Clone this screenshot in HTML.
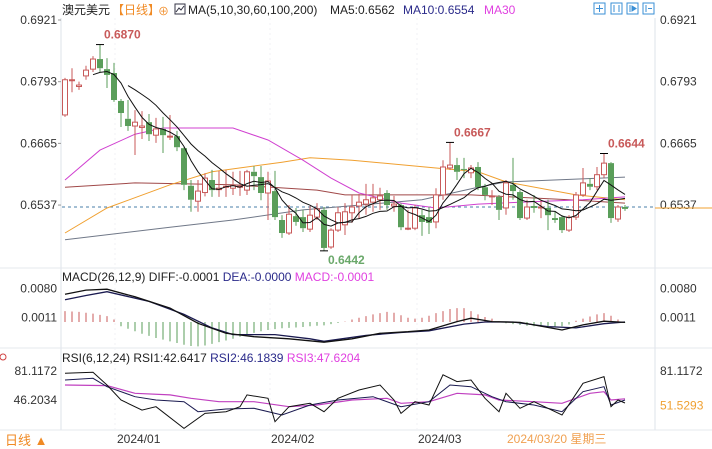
<!DOCTYPE html>
<html><head><meta charset="utf-8">
<style>
html,body{margin:0;padding:0;background:#fff;width:712px;height:449px;overflow:hidden;font-family:"Liberation Sans","Noto Sans CJK SC",sans-serif;}
svg{display:block}
</style></head>
<body>
<svg id="chart" width="712" height="449" viewBox="0 0 712 449" xmlns="http://www.w3.org/2000/svg" font-family="Liberation Sans, Noto Sans CJK SC, sans-serif" font-size="12">
<g>
<line x1="61" y1="18" x2="61" y2="430" stroke="#dde3ea"/>
<line x1="655" y1="18" x2="655" y2="430" stroke="#dde3ea"/>
<line x1="0" y1="268" x2="712" y2="268" stroke="#e4e8ee"/>
<line x1="0" y1="348" x2="712" y2="348" stroke="#e4e8ee"/>
<line x1="0" y1="430" x2="712" y2="430" stroke="#e4e8ee"/>
<line x1="115" y1="18" x2="115" y2="430" stroke="#f0f2f5" stroke-dasharray="2,3"/>
<line x1="270" y1="18" x2="270" y2="430" stroke="#f0f2f5" stroke-dasharray="2,3"/>
<line x1="417" y1="18" x2="417" y2="430" stroke="#f0f2f5" stroke-dasharray="2,3"/>
</g>
<g>
<text x="62" y="14" fill="#222">澳元美元</text>
<text x="112" y="14" fill="#f08a24">【日线】</text>
<text x="158" y="15" fill="#f08a24" font-size="11">⊕</text>
<rect x="175" y="4" width="10" height="10" fill="none" stroke="#334"/>
<polyline points="176,12 179,8 181,10 184,6" fill="none" stroke="#334"/>
<text x="188" y="14" fill="#222">MA(5,10,30,60,100,200)</text>
<text x="330" y="14" fill="#222">MA5:0.6562</text>
<text x="403" y="14" fill="#2a2a8a">MA10:0.6554</text>
<text x="484" y="14" fill="#e040e0">MA30</text>
<g stroke="#3a8fd6" fill="none">
<rect x="594" y="3" width="11" height="11"/><rect x="611" y="3" width="11" height="11"/><rect x="627" y="3" width="11" height="11"/><rect x="643" y="3" width="11" height="11"/>
<line x1="599.5" y1="5" x2="599.5" y2="12"/><line x1="596" y1="8.5" x2="603" y2="8.5"/>
<line x1="614" y1="5" x2="614" y2="12"/><line x1="619" y1="5" x2="619" y2="12"/>
<line x1="630" y1="5" x2="630" y2="12"/><polygon points="632,6 636,8.5 632,11" fill="#3a8fd6"/>
<line x1="646" y1="5" x2="646" y2="12"/><line x1="648" y1="8.5" x2="652" y2="8.5"/>
</g>
</g>
<g id="axes" fill="#333" font-size="12"></g>
<g id="price"></g>
<g id="macd"></g>
<g id="rsi"></g>
<text x="62" y="281" fill="#222" font-size="12">MACD(26,12,9) DIFF:-0.0001 <tspan fill="#2a2a8a">DEA:-0.0000</tspan> <tspan fill="#e040e0">MACD:-0.0001</tspan></text>
<text x="62" y="362" fill="#222" font-size="12">RSI(6,12,24) RSI1:42.6417 <tspan fill="#2a2a8a">RSI2:46.1839</tspan> <tspan fill="#e040e0">RSI3:47.6204</tspan></text>
<circle cx="3" cy="357" r="3" fill="none" stroke="#d04040"/>
<g font-size="12">
<text x="5" y="445" fill="#f08a24" font-size="13">日线 ▲</text>
<text x="117" y="443" fill="#333">2024/01</text>
<text x="271" y="443" fill="#333">2024/02</text>
<text x="418" y="443" fill="#333">2024/03</text>
<text x="507" y="443" fill="#f0a050">2024/03/20 星期三</text>
</g>
</svg>
<script>
const opens=[0.6724,0.6797,0.6783,0.6805,0.6819,0.6840,0.6819,0.6811,0.6753,0.6716,0.6701,0.6698,0.6709,0.6682,0.6695,0.6678,0.6680,0.6655,0.6577,0.6545,0.6563,0.6589,0.6569,0.6574,0.6572,0.6574,0.6568,0.6606,0.6595,0.6562,0.6566,0.6506,0.6479,0.6514,0.6512,0.6487,0.6512,0.6527,0.6450,0.6485,0.6496,0.6521,0.6535,0.6539,0.6543,0.6548,0.6562,0.6535,0.6537,0.6487,0.6489,0.6516,0.6512,0.6502,0.6558,0.6614,0.6620,0.6612,0.6604,0.6616,0.6574,0.6554,0.6554,0.6531,0.6579,0.6564,0.6510,0.6535,0.6531,0.6531,0.6510,0.6512,0.6485,0.6512,0.6558,0.6581,0.6575,0.6600,0.6624,0.6508,0.6533];
const closes=[0.6797,0.6797,0.6786,0.6817,0.6840,0.6821,0.6807,0.6755,0.6728,0.6701,0.6709,0.6701,0.6684,0.6695,0.6682,0.6680,0.6657,0.6579,0.6548,0.6566,0.6593,0.6568,0.6572,0.6576,0.6578,0.6576,0.6606,0.6597,0.6562,0.6587,0.6512,0.6479,0.6518,0.6502,0.6489,0.6516,0.6529,0.6448,0.6485,0.6521,0.6523,0.6533,0.6543,0.6548,0.6552,0.6556,0.6537,0.6539,0.6491,0.6489,0.6531,0.6502,0.6500,0.6558,0.6616,0.6620,0.6606,0.6610,0.6614,0.6574,0.6558,0.6556,0.6527,0.6583,0.6566,0.6510,0.6533,0.6531,0.6533,0.6516,0.6506,0.6485,0.6512,0.6558,0.6583,0.6575,0.6600,0.6624,0.6510,0.6533,0.6529];
const highs=[0.6801,0.6821,0.6793,0.6826,0.6846,0.6870,0.6842,0.6832,0.6757,0.6755,0.6734,0.6732,0.6726,0.6718,0.6720,0.6724,0.6691,0.6657,0.6589,0.6589,0.6603,0.6610,0.6608,0.6610,0.6606,0.6608,0.6610,0.6618,0.6618,0.6606,0.6608,0.6516,0.6537,0.6531,0.6527,0.6535,0.6541,0.6533,0.6489,0.6533,0.6541,0.6558,0.6560,0.6581,0.6581,0.6573,0.6568,0.6556,0.6541,0.6527,0.6537,0.6527,0.6533,0.6572,0.6630,0.6667,0.6635,0.6635,0.6620,0.6626,0.6581,0.6568,0.6558,0.6589,0.6635,0.6568,0.6548,0.6558,0.6548,0.6548,0.6523,0.6516,0.6516,0.6564,0.6614,0.6593,0.6616,0.6644,0.6626,0.6537,0.6537];
const lows=[0.6720,0.6771,0.6776,0.6797,0.6813,0.6813,0.6780,0.6751,0.6699,0.6691,0.6641,0.6674,0.6670,0.6666,0.6645,0.6672,0.6649,0.6568,0.6523,0.6523,0.6555,0.6554,0.6554,0.6554,0.6558,0.6556,0.6558,0.6568,0.6547,0.6506,0.6506,0.6469,0.6475,0.6494,0.6481,0.6481,0.6506,0.6442,0.6446,0.6481,0.6475,0.6500,0.6508,0.6517,0.6523,0.6527,0.6527,0.6523,0.6485,0.6485,0.6485,0.6473,0.6477,0.6489,0.6548,0.6610,0.6589,0.6593,0.6593,0.6568,0.6547,0.6537,0.6506,0.6517,0.6548,0.6506,0.6506,0.6521,0.6510,0.6485,0.6500,0.6479,0.6481,0.6506,0.6554,0.6568,0.6568,0.6593,0.6500,0.6502,0.6525];
const ma30Idx=[0,5,10,14,24,29,34,38,42,48,53,59,65,74,80];
const ma30Val=[0.6589,0.6651,0.6684,0.6697,0.6697,0.6672,0.6630,0.6593,0.6562,0.6541,0.6531,0.6539,0.6543,0.6548,0.6554];
const ma60Idx=[0,6,15,21,31,35,41,53,59,63,73,80];
const ma60Val=[0.6479,0.6531,0.6579,0.6606,0.6626,0.6635,0.6630,0.6614,0.6606,0.6585,0.6558,0.6548];
const ma100Idx=[0,10,24,36,40,58,72,80];
const ma100Val=[0.6574,0.6583,0.6579,0.6568,0.6558,0.6558,0.6548,0.6541];
const ma200Idx=[0,15,24,34,42,51,59,63,80];
const ma200Val=[0.6465,0.6491,0.6506,0.6527,0.6537,0.6548,0.6574,0.6585,0.6595];
const priceTicks=["0.6921","0.6793","0.6665","0.6537"];
const macdHist=[26,25,24,22,20,17,14,6,-10,-16,-22,-28,-33,-38,-42,-46,-50,-54,-57,-58,-56,-52,-48,-44,-40,-35,-30,-26,-22,-19,-17,-15,-14,-13,-12,-10,-9,-8,-5,-2,1,6,10,14,18,21,24,22,16,10,8,10,15,21,26,31,33,33,26,18,12,8,2,-3,-5,-7,-9,-10,-11,-12,-11,-10,-6,3,8,13,18,21,15,6,-1];
const diffIdx=[0,3,6,10,15,19,23,27,32,37,41,45,49,52,56,58,61,65,71,74,77,80];
const diffVal=[0.0066,0.0076,0.0078,0.0060,0.0033,-0.0003,-0.0027,-0.0035,-0.0040,-0.0048,-0.0040,-0.0027,-0.0023,-0.0019,0.0001,0.0009,0.0001,-0.0001,-0.0019,-0.0007,0.0002,-0.0001];
const deaIdx=[0,3,6,12,17,21,24,30,35,37,43,48,52,57,60,64,69,73,77,80];
const deaVal=[0.0053,0.0063,0.0072,0.0049,0.0018,-0.0014,-0.0030,-0.0030,-0.0040,-0.0046,-0.0032,-0.0025,-0.0021,-0.0005,0.0000,0.0000,-0.0011,-0.0014,-0.0004,0.0000];
const macdTicks=["0.0080","0.0011"];
const rsi1Idx=[0,4,6,8,11,13,17,20,23,25,26,29,30,32,35,37,39,42,45,47,48,50,52,54,56,58,60,62,63,65,67,71,74,77,78,79,80];
const rsi1Val=[78.3,79.5,64.3,46.2,34.1,38.1,12.0,30.1,32.1,38.1,52.3,48.3,20.1,38.1,42.2,32.1,48.3,58.3,64.3,46.2,30.1,44.2,40.2,76.5,68.3,70.3,48.3,32.1,54.3,36.2,44.2,28.1,66.3,74.4,38.1,46.2,42.6];
const rsi2Idx=[0,4,6,10,13,17,19,23,27,31,35,39,44,48,52,55,58,61,63,67,71,74,77,78,80];
const rsi2Val=[70.3,72.3,62.2,50.2,46.2,44.2,32.1,35.4,36.2,28.1,40.2,46.2,50.2,38.1,44.2,64.3,62.2,50.2,44.2,40.2,32.1,56.2,62.2,40.2,46.2];
const rsi3Idx=[0,6,10,15,18,22,27,32,36,41,46,48,52,56,60,62,67,71,75,77,78,80];
const rsi3Val=[64.3,63.5,54.3,52.3,48.3,44.2,44.2,38.1,40.2,46.2,48.3,42.2,44.2,54.3,52.3,46.2,44.2,42.2,54.3,56.2,46.2,47.6];
const rsiTicks=["81.1172","46.2034"];

const NS="http://www.w3.org/2000/svg";
function xAt(i){return 65+i*7;}
function yPrice(p){return 20+(0.6921-p)/0.0002075;}
function yMacd(v){return 322-v/0.000238;}
function yRsi(v){return 371+(81.1172-v)/1.204;}
function mk(tag,attrs,parent){const e=document.createElementNS(NS,tag);for(const k in attrs)e.setAttribute(k,attrs[k]);parent.appendChild(e);return e;}
function poly(idx,vals,yf,color,parent,name,w){
  const pts=idx.map((ix,k)=>xAt(ix).toFixed(1)+","+yf(vals[k]).toFixed(1)).join(" ");
  const e=mk("polyline",{points:pts,fill:"none",stroke:color,"stroke-width":w||1},parent);
  
  
  return e;
}
const price=document.getElementById("price");
const axes=document.getElementById("axes");
// price ticks
priceTicks.forEach(t=>{
  const y=yPrice(parseFloat(t));
  const l=mk("text",{x:57,y:y+4,"text-anchor":"end",fill:"#333"},axes);l.textContent=t;
  
  
  const r=mk("text",{x:660,y:y+4,fill:"#333"},axes);r.textContent=t;
  
  
  mk("line",{x1:58,x2:61,y1:y,y2:y,stroke:"#999"},axes);
});
// current price line
const cur=mk("line",{x1:62,x2:655,y1:yPrice(0.6533),y2:yPrice(0.6533),stroke:"#4a7fa8","stroke-dasharray":"3,3"},price);


const cur2=mk("line",{x1:655,x2:712,y1:yPrice(0.6531),y2:yPrice(0.6531),stroke:"#f0a030"},price);


// long MAs
poly(ma200Idx,ma200Val,yPrice,"#707888",price,"ma200-line");
poly(ma100Idx,ma100Val,yPrice,"#a04848",price,"ma100-line");
poly(ma60Idx,ma60Val,yPrice,"#f0a030",price,"ma60-line");
poly(ma30Idx,ma30Val,yPrice,"#d040d0",price,"ma30-line");
// candles
closes.forEach((c,i)=>{
  const o=opens[i],h=highs[i],l=lows[i],x=xAt(i);
  const up=c>=o, col=up?"#c85a5a":"#5a9e5a";
  const g=mk("g",{},price);
  
  
  const top=Math.min(yPrice(o),yPrice(c)), bot=Math.max(yPrice(o),yPrice(c));
  mk("line",{x1:x,x2:x,y1:yPrice(h),y2:top,stroke:col},g);
  mk("line",{x1:x,x2:x,y1:bot,y2:yPrice(l),stroke:col},g);
  if(up) mk("rect",{x:x-2.5,y:top,width:5,height:Math.max(bot-top,1),fill:"#fff",stroke:col},g);
  else mk("rect",{x:x-3,y:top,width:6,height:Math.max(bot-top,1),fill:col},g);
});
// MA5/MA10
function sma(n){const idx=[],vals=[];for(let i=n-1;i<closes.length;i++){let s=0;for(let k=0;k<n;k++)s+=closes[i-k];idx.push(i);vals.push(s/n);}return [idx,vals];}
const m5=sma(5),m10=sma(10);
poly(m10[0],m10[1],yPrice,"#111",price,"ma10-line");
poly(m5[0],m5[1],yPrice,"#111",price,"ma5-line");
// extremes
function mark(i,p,txt,color,above,name){
  const x=xAt(i),y=yPrice(p);
  mk("line",{x1:x-4,x2:x+4,y1:y,y2:y,stroke:"#000"},price);
  const t=mk("text",{x:x+4,y:above?y-6:y+13,fill:color,"font-size":"12","font-weight":"bold"},price);t.textContent=txt;
  
  
}
let hiI=0,loI=0;highs.forEach((h,i)=>{if(h>highs[hiI])hiI=i;});lows.forEach((l,i)=>{if(l<lows[loI])loI=i;});
mark(hiI,highs[hiI],highs[hiI].toFixed(4),"#c85a5a",true,"max-high-label");
mark(55,highs[55],highs[55].toFixed(4),"#c85a5a",true,"local-high-label");
mark(77,highs[77],highs[77].toFixed(4),"#c85a5a",true,"recent-high-label");
mark(loI,lows[loI],lows[loI].toFixed(4),"#6aa86a",false,"min-low-label");
// MACD
const macd=document.getElementById("macd");
macdTicks.forEach(t=>{
  const y=yMacd(parseFloat(t));
  const l=mk("text",{x:57,y:y+4,"text-anchor":"end",fill:"#333"},axes);l.textContent=t;
  
  
  const r=mk("text",{x:660,y:y+4,fill:"#333"},axes);r.textContent=t;
  
  
});
macdHist.forEach((v,i)=>{
  const b=mk("line",{x1:xAt(i),x2:xAt(i),y1:yMacd(0),y2:yMacd(v/10000),stroke:v>=0?"#c85a5a":"#5a9e5a"},macd);
  
  
});
poly(deaIdx,deaVal,yMacd,"#1a1a50",macd,"dea-line",1.3);
poly(diffIdx,diffVal,yMacd,"#111",macd,"diff-line",1.3);
// RSI
const rsi=document.getElementById("rsi");
rsiTicks.forEach(t=>{
  const y=yRsi(parseFloat(t));
  const l=mk("text",{x:57,y:y+4,"text-anchor":"end",fill:"#333"},axes);l.textContent=t;
  
  
});
const rt=mk("text",{x:660,y:yRsi(81.1172)+4,fill:"#333"},axes);rt.textContent="81.1172";


const rt2=mk("text",{x:660,y:yRsi(51.5293)+14,fill:"#f0a030"},axes);rt2.textContent="51.5293";


poly(rsi3Idx,rsi3Val,yRsi,"#c040c0",rsi,"rsi3-line",1.2);
poly(rsi2Idx,rsi2Val,yRsi,"#1a1a50",rsi,"rsi2-line");
poly(rsi1Idx,rsi1Val,yRsi,"#111",rsi,"rsi1-line");
</script>
</body></html>
